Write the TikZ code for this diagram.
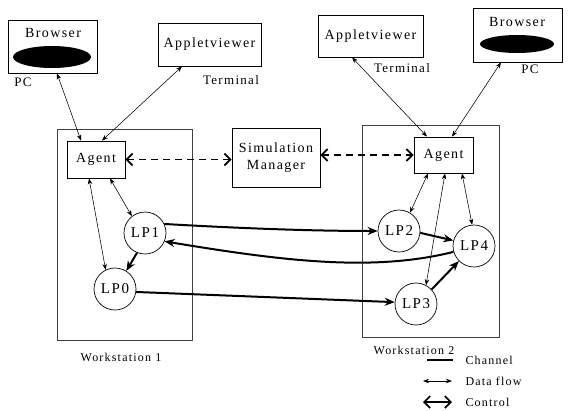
\documentclass[tikz,border=0pt]{standalone}
\usepackage{fontspec}
\setmainfont{Liberation Serif}[LetterSpace=10]
\usetikzlibrary{arrows.meta, shapes.geometric, shadows, positioning, calc}

\begin{document}
\begin{tikzpicture}[x=1pt, y=-1pt,
    box/.style={draw, rectangle, fill=white, line width=0.8pt, inner sep=0pt, font=\fontsize{14}{17}\selectfont,
        drop shadow={shadow xshift=1.2pt, shadow yshift=-1.2pt, fill=black, opacity=1}},
    station/.style={draw, rectangle, line width=0.6pt, black!75},
    lp/.style={draw, circle, line width=0.7pt, minimum size=42pt, inner sep=0pt, font=\fontsize{15}{17}\selectfont},
    lbl/.style={font=\fontsize{12}{14}\selectfont},
    tag/.style={font=\fontsize{13}{15}\selectfont},
    dataflow/.style={line width=0.55pt, {Stealth[length=6pt,width=4.5pt]}-{Stealth[length=6pt,width=4.5pt]}},
    channel/.style={line width=2pt, -{Stealth[length=10pt,width=8pt]}},
    control/.style={line width=1.7pt, dash pattern=on 7pt off 5pt, {Straight Barb[length=6pt,width=12pt]}-{Straight Barb[length=6pt,width=12pt]}}]
    \useasboundingbox (0,0) rectangle (573,410);

    % Workstations
    \node[station, minimum width=135pt, minimum height=211pt] (W1) at (124.5,234.5) {};
    \node[station, minimum width=137pt, minimum height=212pt] (W2) at (430.5,231) {};
    \node[lbl] at (121,357) {Workstation 1};
    \node[lbl] at (414,350) {Workstation 2};

    % Browsers and appletviewers
    \node[box, minimum width=89pt, minimum height=53pt] (B1) at (52.5,46.5) {};
    \node[font=\fontsize{14}{17}\selectfont] at (53,33) {Browser};
    \node[ellipse, fill=black, minimum width=78pt, minimum height=22pt] (E1) at (52,57) {};
    \node[tag] at (23,82) {PC};
    \node[box, minimum width=89pt, minimum height=54pt] (B2) at (517.5,35) {};
    \node[font=\fontsize{14}{17}\selectfont] at (517,22) {Browser};
    \node[ellipse, fill=black, minimum width=74pt, minimum height=18pt] (E2) at (517,44) {};
    \node[tag] at (530,69) {PC};

    \node[box, minimum width=103pt, minimum height=43pt] (AV1) at (209.5,44.5) {Appletviewer};
    \node[tag] at (231,80) {Terminal};
    \node[box, minimum width=105pt, minimum height=42pt] (AV2) at (370.5,36) {Appletviewer};
    \node[tag] at (402,68) {Terminal};

    % Agents and manager
    \node[box, minimum width=58pt, minimum height=37pt] (A1) at (96,159.5) {Agent};
    \node[box, minimum width=59pt, minimum height=36pt] (A2) at (443.5,155) {Agent};
    \node[box, minimum width=88pt, minimum height=59pt, align=center] (SM) at (276,157.5) {Simulation\\Manager};

    % Logical processes
    \node[lp] (LP1) at (145,233) {LP1};
    \node[lp] (LP0) at (115,289) {LP0};
    \node[lp] (LP2) at (399,231) {LP2};
    \node[lp] (LP4) at (474,246) {LP4};
    \node[lp] (LP3) at (416,304) {LP3};

    % Data flow
    \draw[dataflow] ([xshift=4.5pt]B1.south) -- ([xshift=-15pt]A1.north);
    \draw[dataflow] ([xshift=-27.5pt]AV1.south) -- ([xshift=6pt]A1.north);
    \draw[dataflow] ([xshift=14pt]A1.south) -- (LP1.128);
    \draw[dataflow] ([xshift=-7pt]A1.south) -- (LP0.116);
    \draw[dataflow] ([xshift=-18.5pt]AV2.south) -- ([xshift=-16.5pt]A2.north);
    \draw[dataflow] ([xshift=-16.5pt]B2.south) -- ([xshift=8.5pt]A2.north);
    \draw[dataflow] ([xshift=-15.5pt]A2.south) -- (LP2.59);
    \draw[dataflow] ([xshift=1.5pt]A2.south) -- (LP3.62);
    \draw[dataflow] ([xshift=18.5pt]A2.south) -- (LP4.95);

    % Control
    \draw[control] (A1.east) -- (A1.east -| SM.west);
    \draw[control] (SM.east |- A2.west) -- (A2.west);

    % Channels
    \draw[channel] (LP1.25) .. controls +(70,4) and +(-70,0) .. (LP2.west);
    \draw[channel] (LP4.196) .. controls +(-80,20) and +(120,20) .. (LP1.-23);
    \draw[channel] (LP0.-8) -- (LP3.175);
    \draw[channel] (LP1.-112) -- (LP0.58);
    \draw[channel] (LP2.-5) -- (LP4.165);
    \draw[channel] (LP3.43) -- (LP4.-135);

    % Legend
    \node[lbl, anchor=west] (Lch) at (462,360) {Channel};
    \node[lbl, anchor=west] (Ldf) at (462,381) {Data flow};
    \node[lbl, anchor=west] (Lct) at (462,402) {Control};
    \draw[line width=2pt] ([xshift=-35pt]Lch.west) -- ([xshift=-9pt]Lch.west);
    \draw[dataflow] ([xshift=-39pt]Ldf.west) -- ([xshift=-10pt]Ldf.west);
    \draw[line width=1.7pt, {Straight Barb[length=6pt,width=12pt]}-{Straight Barb[length=6pt,width=12pt]}] ([xshift=-39pt]Lct.west) -- ([xshift=-10pt]Lct.west);
\end{tikzpicture}
\end{document}
